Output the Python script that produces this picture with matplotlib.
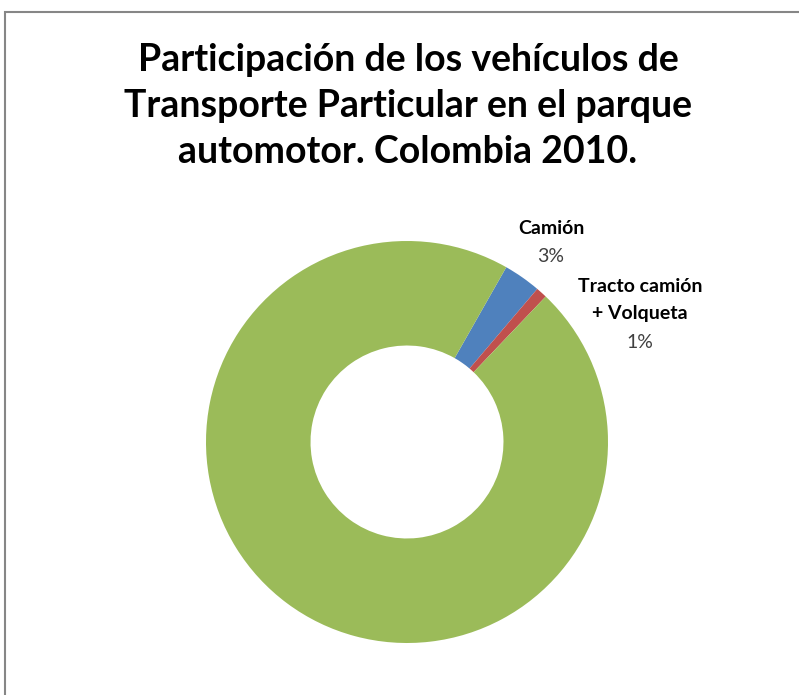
import matplotlib
matplotlib.use("Agg")
import matplotlib.pyplot as plt
from matplotlib.patches import Rectangle

categories = ["Camión", "Tracto camión\n+ Volqueta", "Otros"]
values = [3.0, 0.9, 96.1]
pct_labels = ["3%", "1%", ""]
colors = ["#4F81BD", "#C0504D", "#9BBB59"]
title_lines = ["Participación de los vehículos de",
               "Transporte Particular en el parque",
               "automotor. Colombia 2010."]

W, H = 799, 695
fig = plt.figure(figsize=(W / 100, H / 100), dpi=100)
fig.patch.set_facecolor("white")

# chart border (left/top visible, right/bottom cut off)
fig.patches.append(Rectangle((5 / W, -0.1), 1.2, (H - 12) / H + 0.1,
                             transform=fig.transFigure, fill=False,
                             edgecolor="#868686", linewidth=1.5))

cx, cy, r = 407, 442, 201
ax = fig.add_axes([(cx - r) / W, (H - cy - r) / H, 2 * r / W, 2 * r / H])
wedges, _ = ax.pie(values, colors=colors, startangle=60.4, counterclock=False,
                   radius=1.0, wedgeprops=dict(width=0.52, edgecolor="none"))
ax.set_xlim(-1, 1)
ax.set_ylim(-1, 1)
ax.set_aspect("equal")
ax.axis("off")

fam = ["Lato", "DejaVu Sans"]
for line, y in zip(title_lines, [60, 106, 152]):
    fig.text(408 / W, 1 - y / H, line, ha="center", va="center",
             fontsize=27, fontweight="bold", family=fam, color="black")

# data labels
lbl_fs = 14
fig.text(551 / W, 1 - 229 / H, categories[0], ha="center", va="center",
         fontsize=lbl_fs, fontweight="bold", family=fam)
fig.text(551 / W, 1 - 257 / H, pct_labels[0], ha="center", va="center",
         fontsize=lbl_fs, family=fam, color="#404040")
for line, y in zip(categories[1].split("\n"), [286, 313]):
    fig.text(640 / W, 1 - y / H, line, ha="center", va="center",
             fontsize=lbl_fs, fontweight="bold", family=fam)
fig.text(640 / W, 1 - 342 / H, pct_labels[1], ha="center", va="center",
         fontsize=lbl_fs, family=fam, color="#404040")

fig.savefig("out.png", dpi=100)
